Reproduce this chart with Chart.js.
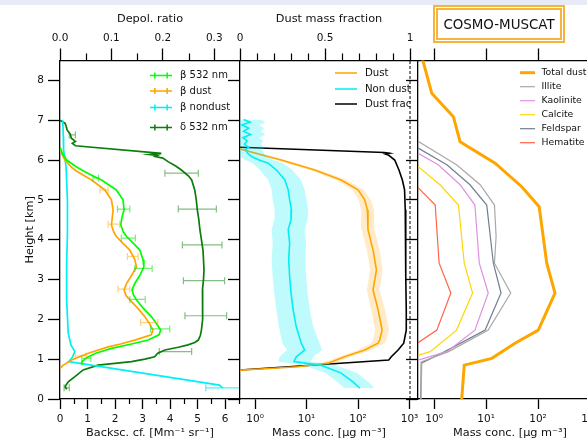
<!DOCTYPE html>
<html>
<head>
<meta charset="utf-8">
<script src="https://cdn.jsdelivr.net/npm/chart.js@4.4.0/dist/chart.umd.min.js"></script>
<style>
  body { margin: 0; width: 587px; height: 440px; overflow: hidden; background: #fff; position: relative; font-family: "DejaVu Sans", sans-serif; }
  #strip { position: absolute; left: 0; top: 0; width: 587px; height: 5px; background: #e6ebf6; }
  canvas { position: absolute; left: 0; top: 0; }
  #box { position: absolute; left: 433px; top: 5px; width: 132px; height: 38px; box-sizing: border-box;
         border: 5px double #f5b43c; font-size: 13.4px; color: #111; display: flex; align-items: center; justify-content: center; }
</style>
</head>
<body>
<div id="strip"></div>
<canvas id="c1" width="610" height="440"></canvas>
<canvas id="c2" width="610" height="440"></canvas>
<canvas id="c3" width="610" height="440"></canvas>
<div id="box">COSMO-MUSCAT</div>
<script>
// ---- panel 1 : lidar profiles (height in km) ----
const b532H = [6.32, 6.15, 6.0, 5.85, 5.75, 5.6, 5.5, 5.25, 5.0, 4.75, 4.55, 4.37, 4.2, 4.08, 3.9, 3.74, 3.5, 3.32, 3.1, 2.9, 2.74, 2.6, 2.49, 2.3, 2.07, 1.9, 1.73, 1.61, 1.48, 1.38, 1.27, 1.15, 1.05, 0.95, 0.9, 0.86];
const b532V = [0.0, 0.1, 0.24, 0.55, 0.79, 1.2, 1.51, 2.05, 2.29, 2.33, 2.25, 2.21, 2.3, 2.42, 2.68, 2.9, 3.02, 3.05, 2.9, 2.72, 2.62, 2.68, 2.78, 3.0, 3.32, 3.5, 3.66, 3.6, 3.2, 2.6, 1.87, 1.3, 1.0, 0.82, 0.78, 0.82];
const bDustH = [6.32, 6.15, 6.0, 5.85, 5.75, 5.6, 5.5, 5.25, 5.0, 4.75, 4.55, 4.37, 4.2, 4.08, 3.9, 3.74, 3.5, 3.32, 3.1, 2.9, 2.74, 2.6, 2.49, 2.3, 2.07, 1.9, 1.73, 1.61, 1.48, 1.38, 1.31, 1.15, 0.98, 0.85, 0.77];
const bDustV = [0.0, 0.07, 0.18, 0.38, 0.54, 0.9, 1.15, 1.63, 1.87, 1.93, 1.9, 1.87, 1.95, 2.05, 2.3, 2.54, 2.72, 2.78, 2.6, 2.42, 2.33, 2.4, 2.54, 2.8, 3.08, 3.25, 3.38, 3.32, 2.72, 2.2, 1.75, 1.03, 0.42, 0.12, 0.0];
const bNdH = [7.0, 6.6, 6.26, 5.84, 5.0, 4.17, 3.32, 2.49, 1.65, 1.35, 1.19, 1.05, 0.94, 0.35, 0.27];
const bNdV = [0.1, 0.12, 0.13, 0.22, 0.27, 0.27, 0.24, 0.24, 0.3, 0.4, 0.54, 0.45, 0.32, 5.8, 5.92];
const depolH = [7.0, 6.92, 6.85, 6.75, 6.65, 6.55, 6.47, 6.42, 6.36, 6.17, 6.14, 6.12, 6.09, 6.05, 5.96, 5.85, 5.75, 5.6, 5.5, 5.25, 5.0, 4.75, 4.5, 4.25, 4.0, 3.74, 3.5, 3.24, 3.0, 2.74, 2.5, 2.24, 2.0, 1.73, 1.6, 1.48, 1.42, 1.36, 1.3, 1.23, 1.15, 1.06, 1.0, 0.94, 0.85, 0.73, 0.56, 0.43, 0.31, 0.24];
const depolV = [0.0, 0.01, 0.012, 0.014, 0.02, 0.022, 0.03, 0.024, 0.03, 0.197, 0.175, 0.19, 0.185, 0.2, 0.21, 0.225, 0.236, 0.25, 0.256, 0.262, 0.265, 0.267, 0.27, 0.272, 0.275, 0.278, 0.279, 0.28, 0.279, 0.277, 0.277, 0.278, 0.277, 0.275, 0.273, 0.269, 0.262, 0.249, 0.23, 0.204, 0.19, 0.184, 0.165, 0.139, 0.074, 0.045, 0.029, 0.016, 0.01, 0.013];

// error bars (height, low, high)
const err532H = [5.55, 4.77, 4.04, 3.28, 2.5, 1.76, 1.02];
const err532Lo = [1.2, 2.09, 2.23, 2.72, 2.54, 3.29, 0.79];
const err532Hi = [1.4, 2.54, 2.74, 3.35, 3.1, 3.99, 1.12];
const errDustH = [5.25, 4.39, 3.58, 2.76, 1.92, 1.08];
const errDustLo = [1.45, 1.75, 2.45, 2.11, 2.93, 0.55];
const errDustHi = [1.75, 2.17, 2.84, 2.54, 3.56, 0.95];
const errNdH = [0.28];
const errNdLo = [5.3];
const errNdHi = [6.6];
const errDepH = [6.63, 5.67, 4.77, 3.87, 2.97, 2.09, 1.19, 0.28];
const errDepLo = [0.018, 0.204, 0.23, 0.238, 0.24, 0.243, 0.193, 0.008];
const errDepHi = [0.03, 0.269, 0.304, 0.315, 0.32, 0.324, 0.256, 0.018];

// ---- panel 2 : mass concentration from lidar ----
const ndH = [7.02, 6.95, 6.88, 6.8, 6.72, 6.64, 6.56, 6.48, 6.4, 6.32, 6.26, 6.17, 6.09, 6.0, 5.92, 5.75, 5.5, 5.25, 5.0, 4.75, 4.5, 4.25, 3.91, 3.49, 3.07, 2.66, 2.24, 1.82, 1.4, 1.23, 1.06, 0.94, 0.85, 0.65, 0.43, 0.27];
const ndV = [0.6, 0.8, 0.55, 0.75, 0.6, 0.82, 0.58, 0.7, 0.62, 0.75, 0.65, 0.72, 0.85, 1.2, 1.8, 2.6, 3.8, 4.4, 4.7, 5.1, 5.0, 4.4, 4.7, 4.5, 4.7, 5.0, 5.5, 6.3, 7.9, 9.2, 6.3, 5.7, 19, 47, 80, 108];
const ndLo = [0.45, 0.5, 0.45, 0.5, 0.45, 0.55, 0.45, 0.5, 0.45, 0.5, 0.45, 0.45, 0.5, 0.65, 0.9, 1.25, 1.8, 2.1, 2.2, 2.4, 2.35, 2.1, 2.2, 2.1, 2.2, 2.35, 2.6, 2.9, 3.4, 4.2, 3.0, 2.8, 9, 23, 40, 55];
const ndHi = [1.3, 1.6, 1.2, 1.5, 1.3, 1.6, 1.2, 1.45, 1.3, 1.5, 1.35, 1.5, 1.7, 2.3, 3.5, 5.3, 7.8, 9.2, 10, 10.7, 10.5, 9.2, 9.8, 9.5, 9.8, 10.5, 11.5, 13.5, 18, 20, 13.5, 12, 38, 95, 160, 210];
const dustH = [6.3, 6.2, 6.0, 5.75, 5.5, 5.25, 5.0, 4.75, 4.25, 3.74, 3.24, 2.74, 2.24, 1.73, 1.48, 1.4, 1.23, 1.06, 0.9, 0.81, 0.76, 0.72];
const dustV = [0.45, 0.84, 3.2, 14.4, 47, 100, 135, 152, 156, 196, 228, 196, 245, 294, 263, 245, 135, 55, 26, 6.8, 1.55, 0.45];
const dustLo = [0.4, 0.7, 2.6, 11.5, 37, 78, 103, 115, 118, 148, 172, 148, 180, 215, 195, 182, 100, 42, 20, 5.5, 1.3, 0.4];
const dustHi = [0.5, 1.0, 3.9, 18, 60, 130, 178, 205, 208, 262, 300, 262, 335, 400, 355, 330, 182, 72, 34, 8.5, 1.85, 0.5];
const fracH = [6.32, 6.19, 6.17, 6.15, 6.12, 6.0, 5.75, 5.5, 5.25, 4.75, 3.91, 3.07, 2.24, 1.73, 1.4, 1.23, 1.06, 0.98, 0.73];
const fracV = [0.0, 0.85, 0.88, 0.855, 0.875, 0.91, 0.935, 0.955, 0.968, 0.972, 0.974, 0.976, 0.978, 0.978, 0.963, 0.93, 0.89, 0.875, 0.0];
const fracRef = 1;

// ---- panel 3 : COSMO-MUSCAT model ----
const totH = [8.6, 7.68, 7.09, 6.46, 5.92, 5.33, 4.83, 3.41, 2.66, 1.73, 1.4, 1.02, 0.85, 0.0];
const totV = [0.58, 0.9, 2.35, 3.16, 14.9, 48.6, 105, 147, 212, 101, 36, 12.9, 3.8, 3.4];
const illH = [6.5, 5.88, 5.38, 4.87, 4.08, 3.41, 2.66, 1.73, 1.19, 0.94, 0.0];
const illV = [0.45, 2.7, 7.7, 14.5, 15.6, 14.5, 29.8, 11, 1.9, 0.58, 0.56];
const kaoH = [6.2, 5.88, 5.38, 4.87, 3.41, 2.66, 1.73, 1.19, 0.96];
const kaoV = [0.45, 1.2, 3.16, 6.1, 7.4, 11, 6.1, 1.76, 0.45];
const calH = [5.88, 5.38, 4.87, 3.41, 2.66, 1.73, 1.19, 1.08];
const calV = [0.45, 1.3, 2.94, 3.8, 5.5, 2.7, 0.84, 0.45];
const felH = [6.33, 5.88, 5.38, 4.87, 3.41, 2.66, 1.73, 1.19, 0.9, 0.0];
const felV = [0.45, 1.76, 4.9, 10.3, 13.8, 19.4, 9.6, 1.6, 0.57, 0.55];
const hemH = [5.36, 4.87, 3.41, 2.66, 1.73, 1.38];
const hemV = [0.45, 1.05, 1.25, 2.1, 1.13, 0.45];

// tick values
const heightTicks = [0, 1, 2, 3, 4, 5, 6, 7, 8];
const decades = [1, 10, 100, 1000];
const sup = ['⁰', '¹', '²', '³'];
const backMinor = [0.5, 1.5, 2.5, 3.5, 4.5, 5.5, 6.5];
const depolMinor = [0.05, 0.15, 0.25];
const fracMinor = [0.1, 0.2, 0.3, 0.4, 0.6, 0.7, 0.8, 0.9];

const pts = (hs, vs) => hs.map((h, i) => ({ x: vs[i], y: h }));

const FONT = 'DejaVu Sans';
const tickFont = { family: FONT, size: 10.5 };
const titleFont = { family: FONT, size: 11.3 };
const W = 610;

function line(data, color, width, axis, extra) {
  return Object.assign({
    data: data, borderColor: color, backgroundColor: color, borderWidth: width,
    pointRadius: 0, fill: false, tension: 0, xAxisID: axis, yAxisID: 'y', clip: 0
  }, extra || {});
}

function yAxis(labels) {
  return {
    type: 'linear', position: 'left', min: 0, max: 8.5,
    afterFit: s => { s.width = labels ? 60 : 12; },
    afterBuildTicks: s => { s.ticks = heightTicks.map(v => ({ value: v })); },
    border: { color: '#000', width: 1.3 },
    grid: { drawOnChartArea: false, tickLength: 12, tickColor: '#000', tickWidth: 1.3 },
    ticks: { display: labels, color: '#111', font: tickFont, padding: 4 },
    title: { display: labels, text: 'Height [km]', color: '#111', font: titleFont, padding: { top: 23, bottom: 0 } }
  };
}

function xAxis(pos, type, min, max, o) {
  return {
    type: type, position: pos, min: min, max: max,
    afterFit: s => { s.height = pos === 'top' ? 60.5 : 41; },
    afterBuildTicks: o.ticks ? (s => { s.ticks = o.ticks.map(v => ({ value: v })); }) : undefined,
    border: { color: '#000', width: 1.3 },
    grid: { drawOnChartArea: false, tickLength: pos === 'top' ? 12 : 10, tickColor: '#000', tickWidth: 1.3 },
    ticks: {
      display: o.labels !== false, stepSize: o.step, includeBounds: false, autoSkip: false, maxRotation: 0,
      color: '#111', font: tickFont, padding: 4, callback: o.fmt
    },
    title: o.title ? { display: true, text: o.title, color: '#111', font: titleFont,
      padding: pos === 'top' ? { top: 12.5, bottom: 0 } : { top: 0, bottom: 0 } } : { display: false }
  };
}

const logFmt = v => '10' + sup[Math.round(Math.log10(v))];

// short minor tick marks
function minorTicks(list) {
  return {
    id: 'minorTicks',
    afterDraw(chart) {
      const ctx = chart.ctx;
      ctx.save();
      ctx.strokeStyle = '#000';
      ctx.lineWidth = 1.2;
      list.forEach(m => {
        const s = chart.scales[m.axis];
        m.values.forEach(v => {
          const x = Math.round(s.getPixelForValue(v)) + 0.5;
          ctx.beginPath();
          if (s.position === 'top') { ctx.moveTo(x, s.bottom); ctx.lineTo(x, s.bottom - m.len); }
          else { ctx.moveTo(x, s.top); ctx.lineTo(x, s.top + m.len); }
          ctx.stroke();
        });
      });
      ctx.restore();
    }
  };
}

function errorBars(sets) {
  return {
    id: 'errorBars',
    afterDatasetsDraw(chart) {
      const { ctx, chartArea: a } = chart;
      ctx.save();
      ctx.beginPath();
      ctx.rect(a.left, a.top, a.right - a.left, a.bottom - a.top);
      ctx.clip();
      sets.forEach(e => {
        const xs = chart.scales[e.axis], ys = chart.scales.y;
        ctx.strokeStyle = e.color;
        ctx.lineWidth = 1.2;
        e.h.forEach((h, i) => {
          const y = ys.getPixelForValue(h);
          const x1 = xs.getPixelForValue(e.lo[i]), x2 = xs.getPixelForValue(e.hi[i]);
          ctx.beginPath();
          ctx.moveTo(x1, y); ctx.lineTo(x2, y);
          ctx.moveTo(x1, y - 3.5); ctx.lineTo(x1, y + 3.5);
          ctx.moveTo(x2, y - 3.5); ctx.lineTo(x2, y + 3.5);
          ctx.stroke();
        });
      });
      ctx.restore();
    }
  };
}

// matplotlib-like legend drawn inside the panel (clipX cuts overflowing text)
function legend(items, o) {
  return {
    id: 'legendBox',
    afterDraw(chart) {
      const ctx = chart.ctx;
      ctx.save();
      if (o.clipX) {
        ctx.beginPath();
        ctx.rect(0, 0, o.clipX, chart.height);
        ctx.clip();
      }
      ctx.font = o.size + 'px "' + FONT + '"';
      ctx.textBaseline = 'middle';
      items.forEach((it, i) => {
        const y = o.ys[i];
        ctx.strokeStyle = it.color;
        ctx.lineWidth = it.width;
        ctx.beginPath();
        ctx.moveTo(o.x, y); ctx.lineTo(o.x + o.len, y);
        if (it.err) {
          ctx.moveTo(o.x + o.len * 0.22, y - 3); ctx.lineTo(o.x + o.len * 0.22, y + 3);
          ctx.moveTo(o.x + o.len * 0.78, y - 3); ctx.lineTo(o.x + o.len * 0.78, y + 3);
        }
        ctx.stroke();
        ctx.fillStyle = '#111';
        ctx.fillText(it.label, o.x + o.len + o.gap, y);
      });
      ctx.restore();
    }
  };
}

const whiteArea = {
  id: 'whiteArea',
  beforeDraw(chart) {
    const a = chart.chartArea;
    chart.ctx.save();
    chart.ctx.fillStyle = '#fff';
    chart.ctx.fillRect(a.left, a.top, a.right - a.left, a.bottom - a.top);
    chart.ctx.restore();
  }
};

const base = {
  responsive: false, animation: false, indexAxis: 'y', devicePixelRatio: 1,
  plugins: { legend: { display: false }, tooltip: { enabled: false } }
};

// ---- chart 1 ----
new Chart(document.getElementById('c1'), {
  type: 'line',
  data: {
    datasets: [
      line(pts(b532H, b532V), '#00ff00', 1.7, 'x'),
      line(pts(bDustH, bDustV), '#ffa500', 1.7, 'x'),
      line(pts(bNdH, bNdV), '#00f0f5', 1.7, 'x'),
      line(pts(depolH, depolV), '#0a7d0a', 1.7, 'x2')
    ]
  },
  options: Object.assign({}, base, {
    layout: { padding: { left: 0, right: W - 240, top: 0, bottom: 0 } },
    scales: {
      y: yAxis(true),
      x: xAxis('bottom', 'linear', 0, 6.545, { step: 1, title: 'Backsc. cf. [Mm⁻¹ sr⁻¹]' }),
      x2: xAxis('top', 'linear', 0, 0.35, { step: 0.1, title: 'Depol. ratio', fmt: v => v.toFixed(1) })
    }
  }),
  plugins: [
    errorBars([
      { axis: 'x', color: 'rgba(0,230,0,0.55)', h: err532H, lo: err532Lo, hi: err532Hi },
      { axis: 'x', color: 'rgba(255,165,0,0.5)', h: errDustH, lo: errDustLo, hi: errDustHi },
      { axis: 'x', color: 'rgba(0,235,240,0.7)', h: errNdH, lo: errNdLo, hi: errNdHi },
      { axis: 'x2', color: 'rgba(10,125,10,0.5)', h: errDepH, lo: errDepLo, hi: errDepHi }
    ]),
    minorTicks([{ axis: 'x', values: backMinor, len: 5 }, { axis: 'x2', values: depolMinor, len: 7 }]),
    legend([
      { label: 'β 532 nm', color: '#00ff00', width: 1.5, err: true },
      { label: 'β dust', color: '#ffa500', width: 1.5, err: true },
      { label: 'β nondust', color: '#00f0f5', width: 1.5, err: true },
      { label: 'δ 532 nm', color: '#0a7d0a', width: 1.5, err: true }
    ], { x: 150, len: 22, gap: 8, size: 10, ys: [75.5, 91, 107.5, 127.5] })
  ]
});

// ---- chart 2 ----
new Chart(document.getElementById('c2'), {
  type: 'line',
  data: {
    datasets: [
      line(pts(ndH, ndLo), 'rgba(0,0,0,0)', 0, 'x'),
      line(pts(ndH, ndHi), 'rgba(0,0,0,0)', 0, 'x', { fill: '-1', backgroundColor: 'rgba(0,238,245,0.25)' }),
      line(pts(dustH, dustLo), 'rgba(0,0,0,0)', 0, 'x'),
      line(pts(dustH, dustHi), 'rgba(0,0,0,0)', 0, 'x', { fill: '-1', backgroundColor: 'rgba(255,165,0,0.22)' }),
      line(pts(ndH, ndV), '#00eef5', 1.6, 'x'),
      line(pts(dustH, dustV), '#ffa500', 1.6, 'x'),
      line(pts(fracH, fracV), '#000', 1.6, 'x2'),
      line([{ x: fracRef, y: 0 }, { x: fracRef, y: 8.5 }], '#000', 1, 'x2', { borderDash: [3, 2] })
    ]
  },
  options: Object.assign({}, base, {
    layout: { padding: { left: 240 - 12, right: W - 418, top: 0, bottom: 0 } },
    scales: {
      y: yAxis(false),
      x: xAxis('bottom', 'logarithmic', 0.51, 1462, { ticks: decades, fmt: logFmt, title: 'Mass conc. [µg m⁻³]' }),
      x2: xAxis('top', 'linear', 0, 1.047, { step: 0.5, title: 'Dust mass fraction', fmt: v => String(+v.toFixed(1)) })
    }
  }),
  plugins: [
    whiteArea,
    minorTicks([{ axis: 'x2', values: fracMinor, len: 7 }]),
    legend([
      { label: 'Dust', color: '#ffa500', width: 1.6 },
      { label: 'Non dust', color: '#00eef5', width: 1.6 },
      { label: 'Dust fraction', color: '#000', width: 1.6 }
    ], { x: 335, len: 22, gap: 8, size: 10.2, ys: [73, 89, 104], clipX: 411.5 })
  ]
});

// ---- chart 3 ----
new Chart(document.getElementById('c3'), {
  type: 'line',
  data: {
    datasets: [
      line(pts(totH, totV), '#ffa500', 3, 'x'),
      line(pts(illH, illV), '#a9a9a9', 1.2, 'x'),
      line(pts(kaoH, kaoV), '#e090e0', 1.2, 'x'),
      line(pts(calH, calV), '#ffd700', 1.2, 'x'),
      line(pts(felH, felV), '#6f7f90', 1.2, 'x'),
      line(pts(hemH, hemV), '#ff6347', 1.2, 'x')
    ]
  },
  options: Object.assign({}, base, {
    layout: { padding: { left: 418 - 12, right: W - 602, top: 0, bottom: 0 } },
    scales: {
      y: yAxis(false),
      x: xAxis('bottom', 'logarithmic', 0.49, 1700, { ticks: decades, fmt: logFmt, title: 'Mass conc. [µg m⁻³]' }),
      x2: xAxis('top', 'logarithmic', 0.49, 1700, { ticks: decades, labels: false })
    }
  }),
  plugins: [
    whiteArea,
    legend([
      { label: 'Total dust', color: '#ffa500', width: 3 },
      { label: 'Illite', color: '#a9a9a9', width: 1.2 },
      { label: 'Kaolinite', color: '#e090e0', width: 1.2 },
      { label: 'Calcite', color: '#ffd700', width: 1.2 },
      { label: 'Feldspar', color: '#6f7f90', width: 1.2 },
      { label: 'Hematite', color: '#ff6347', width: 1.2 }
    ], { x: 520, len: 15, gap: 6.5, size: 9.3, ys: [72.7, 86.7, 100.7, 114.7, 128.7, 142.7] })
  ]
});
</script>
</body>
</html>
